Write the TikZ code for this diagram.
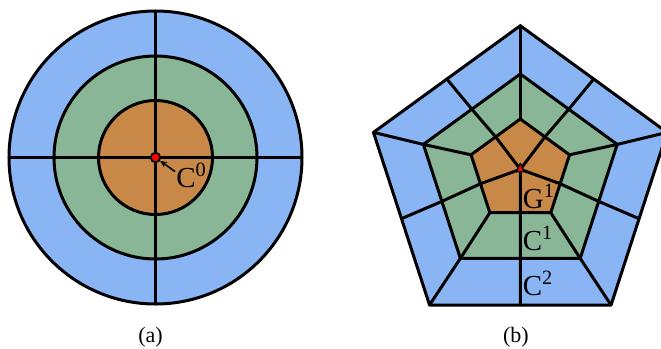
\documentclass[tikz,border=0pt]{standalone}
\usepackage{fontspec}
\setmainfont{Liberation Serif}
\usetikzlibrary{arrows.meta, calc}

\definecolor{ringblue}{RGB}{138,181,244}
\definecolor{ringgreen}{RGB}{136,182,151}
\definecolor{ringorange}{RGB}{200,137,72}

\begin{document}
\begin{tikzpicture}[
    x=0.5pt, y=-0.5pt,
    ring/.style={draw, line width=1.5pt, line join=round},
    spoke/.style={line width=1.5pt, line cap=round, line join=round},
    tag/.style={font=\fontsize{14.5}{16}\selectfont, inner sep=0pt, anchor=base west},
    caption/.style={font=\fontsize{11}{13}\selectfont, inner sep=0pt},
    pointer/.style={-{Stealth[length=3.5pt, width=3pt]}, line width=0.8pt}
]
    \useasboundingbox (0,0) rectangle (661,349);

    % (a) circular rings
    \coordinate (ca) at (155.5,157.5);
    \filldraw[ring, fill=ringblue] (ca) circle[radius=146.5];
    \filldraw[ring, fill=ringgreen] (ca) circle[radius=101.5];
    \filldraw[ring, fill=ringorange] (ca) circle[radius=57];
    \draw[spoke] ($(ca)+(180:146.5)$) -- ($(ca)+(0:146.5)$);
    \draw[spoke] ($(ca)+(-90:146.5)$) -- ($(ca)+(90:146.5)$);
    \node[circle, draw, fill=red, line width=0.9pt, inner sep=0pt, minimum size=4.8pt] (dot) at (ca) {};
    \node[tag] (lab0) at (176,187) {C\textsuperscript{0}};
    \coordinate (c0tail) at (175,171.5);
    \draw[pointer] (c0tail) -- (dot);

    % (b) pentagonal rings
    \foreach \ctr/\rad/\nm/\col in {180.1/154.4/o/ringblue, 175.9/101.9/m/ringgreen, 170.8/51.8/n/ringorange} {
        \foreach \i in {0,...,4}
            \coordinate (\nm\i) at ($(520.3,\ctr)+(-90+72*\i:\rad)$);
        \filldraw[ring, fill=\col] (\nm0) -- (\nm1) -- (\nm2) -- (\nm3) -- (\nm4) -- cycle;
        \foreach \i [evaluate=\i as \j using {int(mod(\i+1,5))}] in {0,...,4}
            \coordinate (\nm m\i) at ($(\nm\i)!0.5!(\nm\j)$);
    }
    \coordinate (hub) at (520.3,169.3);

    % spokes
    \foreach \i in {0,...,4}
        \draw[spoke] (o\i) -- (m\i) -- (n\i);
    \foreach \i in {0,...,4}
        \draw[spoke] (om\i) -- (mm\i) -- (nm\i) -- (hub);
    \filldraw[fill=red, line width=0.6pt, line join=round] ($(hub)+(0,-6)$) -- ($(hub)+(4,2.4)$) -- ($(hub)+(-4,2.4)$) -- cycle;

    % labels
    \node[tag] (g1) at (522.5,208) {G\textsuperscript{1}};
    \node[tag] (c1) at (522.5,250) {C\textsuperscript{1}};
    \node[tag] (c2) at (522.5,295) {C\textsuperscript{2}};

    \node[caption] (capa) at (150.5,337.5) {(a)};
    \node[caption] (capb) at (516,337.5) {(b)};
\end{tikzpicture}
\end{document}
